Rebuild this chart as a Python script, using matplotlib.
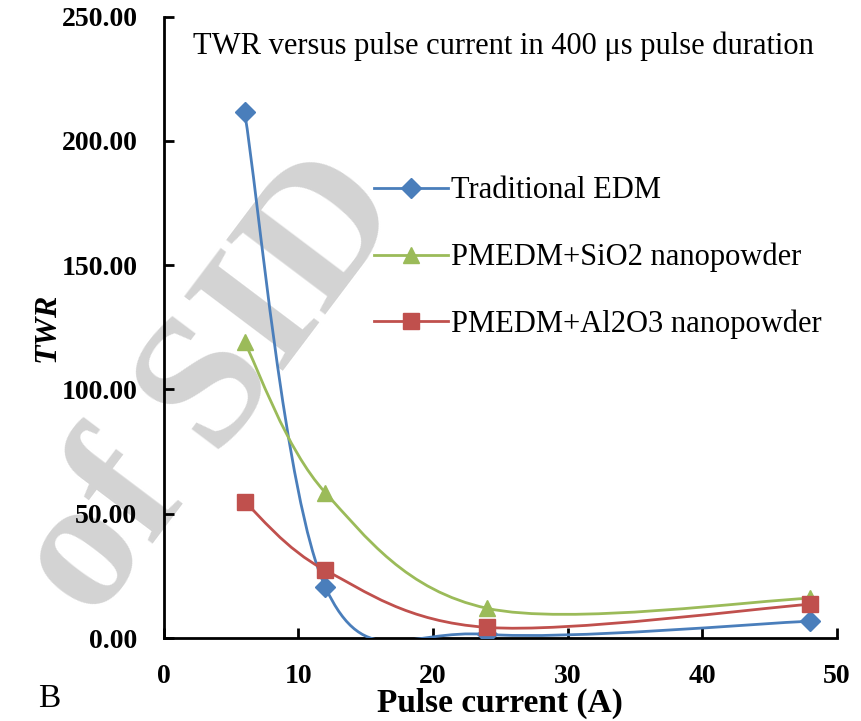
import numpy as np
import matplotlib
matplotlib.use("Agg")
import matplotlib.pyplot as plt
from matplotlib.path import Path
from matplotlib.patches import PathPatch

plt.rcParams["font.family"] = ["Liberation Serif", "DejaVu Serif"]

pulse_current = [6, 12, 24, 48]
twr_edm = [211.5, 20.5, 1.5, 6.8]
twr_sio2 = [119.0, 58.5, 12.0, 16.0]
twr_al2o3 = [54.8, 27.3, 4.3, 13.6]

series_names = ["Traditional EDM", "PMEDM+SiO2 nanopowder", "PMEDM+Al2O3 nanopowder"]
colors = ["#4a7ebb", "#9bbb59", "#c0504d"]
markers = ["D", "^", "s"]
marker_sizes = [10, 12, 12]


def smooth_path(xs, ys):
    # Excel-like smoothed line: cubic bezier through points (Catmull-Rom, 1/6 tension)
    pts = np.column_stack([xs, ys]).astype(float)
    n = len(pts)
    verts = [pts[0]]
    codes = [Path.MOVETO]
    for i in range(n - 1):
        p0 = pts[i - 1] if i > 0 else pts[i]
        p1 = pts[i]
        p2 = pts[i + 1]
        p3 = pts[i + 2] if i + 2 < n else pts[i + 1]
        c1 = p1 + (p2 - p0) / 6.0
        c2 = p2 - (p3 - p1) / 6.0
        verts += [c1, c2, p2]
        codes += [Path.CURVE4] * 3
    return Path(verts, codes)


fig = plt.figure(figsize=(8.62, 7.21), dpi=100)
ax = fig.add_axes([0.190, 0.115, 0.781, 0.862])

# watermark
ax.text(0.248, 0.462, "of SID", transform=fig.transFigure, fontsize=136,
        fontweight="bold", color="#d3d3d3", rotation=53, ha="center",
        va="center", rotation_mode="anchor", zorder=1, clip_on=False)

all_series = [twr_edm, twr_sio2, twr_al2o3]
for vals, name, c, m, ms in zip(all_series, series_names, colors, markers, marker_sizes):
    patch = PathPatch(smooth_path(pulse_current, vals), facecolor="none",
                      edgecolor=c, lw=2, zorder=3)
    ax.add_patch(patch)
    ax.plot(pulse_current, vals, linestyle="none", marker=m, ms=ms, color=c,
            zorder=4)
    ax.plot([], [], color=c, lw=2, marker=m, ms=ms, label=name)

ax.set_xlim(0, 50)
ax.set_ylim(0, 250)
ax.set_xticks([0, 10, 20, 30, 40, 50])
ax.set_yticks([0, 50, 100, 150, 200, 250])
ax.set_yticklabels([f"{v:.2f}" for v in [0, 50, 100, 150, 200, 250]])
ax.spines["top"].set_visible(False)
ax.spines["right"].set_visible(False)
ax.spines["left"].set_linewidth(2)
ax.spines["bottom"].set_linewidth(2)
ax.tick_params(direction="in", length=7, width=2, labelsize=20, pad=19)
for lbl in ax.get_xticklabels() + ax.get_yticklabels():
    lbl.set_fontweight("bold")

ax.set_xlabel("Pulse current (A)", fontsize=24, fontweight="bold", labelpad=-1)
ax.set_ylabel("TWR", fontsize=23, fontweight="bold", style="italic", labelpad=0)
ax.text(0.505, 0.953, "TWR versus pulse current in 400 μs pulse duration",
        transform=ax.transAxes, fontsize=22, ha="center", va="center")

ax.legend(loc="center left", bbox_to_anchor=(0.272, 0.612), frameon=False,
          fontsize=22, handlelength=2.4, handletextpad=0.12, labelspacing=1.22)

fig.text(0.044, 0.02, "B", fontsize=24)

fig.savefig("out.png", dpi=100)
